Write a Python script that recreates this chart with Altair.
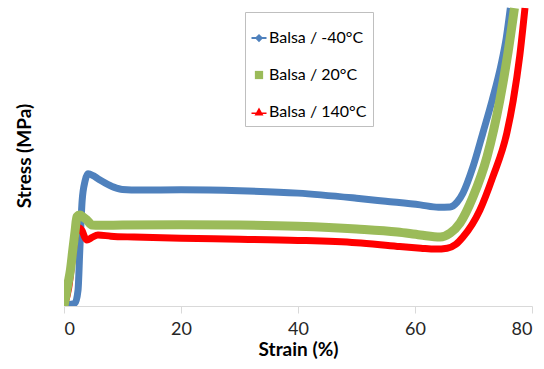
import altair as alt
import pandas as pd

series_names = ["Balsa / -40°C", "Balsa / 20°C", "Balsa / 140°C"]
colors = ["#4f81bd", "#9bbb59", "#ff0000"]
# legend symbols: line + marker (diamond), square, line + triangle
shapes = [
    "M-1,-0.12L1,-0.12L1,0.12L-1,0.12Z M0,-0.55L0.55,0L0,0.55L-0.55,0Z",
    "M-0.55,-0.55L0.55,-0.55L0.55,0.55L-0.55,0.55Z",
    "M-1,0.05L1,0.05L1,0.27L-1,0.27Z M0,-0.6L0.6,0.45L-0.6,0.45Z",
]

blue_x = [0, 1, 1.9, 2.4, 2.7, 3.1, 3.6, 4.1, 5, 6, 7, 8.5, 10, 13, 20, 30, 40, 50, 55, 60.9, 64, 66, 67.2, 68.2, 69.9, 71.6, 73.2, 74.7, 75.6, 76.3]
blue_y = [0, 0.5, 1, 5.3, 18.6, 35, 41.5, 43.9, 43.3, 42, 40.9, 39.5, 38.7, 38.5, 38.6, 38.3, 37.5, 35.8, 34.8, 33.6, 32.8, 32.9, 34.5, 37.5, 46.2, 57.5, 68.4, 80, 89, 99]

green_x = [0, 0.7, 1.1, 1.5, 1.9, 2.2, 2.7, 3.3, 3.9, 4.8, 6, 10, 20, 30, 40, 50, 57, 60.9, 64.3, 66, 67.7, 69.9, 72.3, 74.5, 75.8, 77]
green_y = [0, 7.6, 12, 18.6, 25, 29.6, 30.2, 29.5, 28.6, 26.9, 26.8, 26.9, 27, 26.9, 26.5, 25.6, 24.6, 23.6, 22.9, 24.2, 27.6, 36.2, 49.5, 68.4, 83, 99]

red_x = [0, 0.8, 1.5, 2, 2.5, 3.1, 3.5, 3.9, 4.8, 5.8, 8, 12, 20, 30, 40, 50, 57, 61, 63.5, 65.5, 67, 68.2, 71.1, 73.3, 75.7, 76.8, 77.9, 78.8]
red_y = [0, 6, 17, 24, 26, 25, 23, 21.9, 22.8, 23.6, 23.2, 22.9, 22.5, 22.2, 21.8, 21, 19.8, 19.2, 18.9, 19.2, 20.5, 22.9, 31.9, 42.9, 57.5, 68.4, 83, 99]

x_ticks = [0, 20, 40, 60, 80]

def frame(name, xs, ys):
    return pd.DataFrame({"strain": xs, "stress": ys, "series": name, "idx": range(len(xs))})

df_blue = frame(series_names[0], blue_x, blue_y)
df_green = frame(series_names[1], green_x, green_y)
df_red = frame(series_names[2], red_x, red_y)
df_all = pd.concat([df_blue, df_green, df_red], ignore_index=True)

x_enc = alt.X("strain:Q", scale=alt.Scale(domain=[0, 80], nice=False),
              axis=alt.Axis(values=x_ticks, title="Strain (%)", grid=False,
                            domainColor="#d9d9d9", tickColor="#d9d9d9", tickSize=7,
                            labelFontSize=18, labelColor="#262626", labelPadding=7,
                            titleFontSize=19, titleFontWeight="bold", titleColor="#000000",
                            titlePadding=2, labelFont="Lato", titleFont="Lato"))
y_enc = alt.Y("stress:Q", scale=alt.Scale(domain=[0, 100], nice=False),
              axis=alt.Axis(title="Stress  (MPa)", grid=False, domain=False, ticks=False,
                            labels=False, titleFontSize=19, titleFontWeight="bold",
                            titleColor="#000000", titlePadding=30, titleFont="Lato"))

color_scale = alt.Scale(domain=series_names, range=colors)
shape_scale = alt.Scale(domain=series_names, range=shapes)

legend = alt.Legend(orient="none", legendX=181, legendY=7,
                    strokeColor="#bfbfbf", fillColor="#ffffff",
                    padding=6, rowPadding=21, symbolOpacity=1,
                    title=" ", titleFontSize=1, titlePadding=11,
                    labelFontSize=16, labelFont="Lato", labelColor="#000000",
                    labelOffset=2, symbolSize=225, symbolStrokeWidth=0)

def line_layer(df, width):
    return alt.Chart(df).mark_line(strokeWidth=width, interpolate="monotone", clip=True).encode(
        x=x_enc, y=y_enc,
        color=alt.Color("series:N", scale=color_scale, legend=legend, title=" "),
        order="idx:Q",
    )

lines = [
    line_layer(df_blue, 7),
    line_layer(df_red, 7),
    line_layer(df_green, 9),
]

legend_pts = alt.Chart(df_all).mark_point(filled=True, opacity=0, size=225).encode(
    x=x_enc, y=y_enc,
    color=alt.Color("series:N", scale=color_scale, legend=legend, title=" "),
    shape=alt.Shape("series:N", scale=shape_scale, legend=legend, title=" "),
)

chart = alt.layer(*lines, legend_pts).properties(
    width=468, height=301,
    autosize=alt.AutoSizeParams(type="none"),
    padding={"left": 64, "top": 5, "right": 12, "bottom": 63},
).configure(background="#ffffff").configure_view(stroke=None)

chart.save("out.html", embed_options={"renderer": "svg", "actions": False})
